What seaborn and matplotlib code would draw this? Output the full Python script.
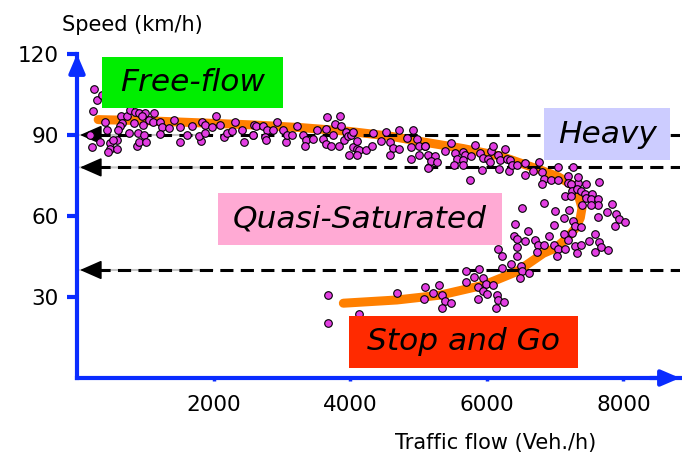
import matplotlib
matplotlib.use('Agg')
import matplotlib.pyplot as plt
from matplotlib.patches import Rectangle
import seaborn as sns

# Measured points: traffic flow (veh/h) and speed (km/h)
flow = [
    # free-flow part
    250, 240, 290, 370, 647, 730, 780, 850, 915, 1000, 1130, 950, 1050, 1110, 1220,
    655, 830, 965, 1415, 410, 632, 607, 437, 755, 900, 975, 1245, 1340, 1515, 1685,
    1835, 1880, 2030, 2100, 1980, 2320, 2590, 190, 215, 338, 485, 590, 485, 460, 590,
    880, 915, 1010, 1220, 1505, 1610, 1810, 1785, 1880, 2150, 2200, 2420, 2445, 2275,
    2570, 520,
    # middle of the upper branch
    2615, 2730, 2780, 2875, 2925, 2750, 2765, 3010, 3060, 3080, 3155, 3220, 3305, 3350,
    3340, 3450, 3515, 3595, 3645, 3645, 3660, 3720, 3745, 3780, 3855, 3830, 3865, 3915,
    3940, 3965, 4015, 4040, 4040, 4100, 4100, 4135, 3990, 4100, 4225, 4320, 4330, 4445,
    4530, 4590, 4625, 4590, 4715, 4715, 4835, 4920, 4895, 4885, 4980, 5015, 5015, 5100,
    5155, 5155, 2570,
    # heavy traffic
    5090, 5140, 5240, 5190, 5265, 5140, 5385, 5475, 5530, 5560, 5520, 5655, 5680, 5655,
    5655, 5775, 5835, 5900, 5950, 5935, 6020, 6045, 6060, 6085, 6160, 6180, 6195, 6270,
    6290, 6325, 6340, 6365, 6440, 6565, 6555, 6680, 6760, 6815, 6845, 6815, 6945, 7050,
    7050, 7185, 7270, 7190, 7335, 5750,
    # capacity zone
    7240, 7455, 7640, 7335, 7255, 7320, 7385, 7435, 7540, 7455, 7530, 7630, 7630, 7520,
    7395, 7140, 7240, 7835, 7760, 7900, 7930, 8020, 7885, 7630, 6845, 6520, 7000, 7210,
    7125, 6990, 7270, 7295, 7385, 6415, 6610, 6405, 6440, 6565, 6700, 6750, 6845, 6905,
    7125, 7255, 7190, 6990, 7050, 7140, 7295, 7385, 7500, 7590, 7650, 7680, 7775, 7580,
    6170, 6440, 6735, 7320, 6220, 6440, 6355, 7025,
    # congested branch
    4690, 5090, 5080, 5215, 5295, 5350, 5385, 5475, 5345, 5690, 5690, 5815, 5890, 5865,
    5865, 5950, 5985, 5950, 6000, 6085, 6145, 6170, 6255, 6130, 6220, 6500, 6520, 6490,
    6625, 4135, 3670, 3680,
]
speed = [
    107, 99, 103, 105, 97.2, 97.2, 99.3, 98.7, 98, 98, 98.3, 97, 95.6, 95, 95,
    94.4, 94.4, 93.8, 95.6, 95, 93.4, 91.9, 91.9, 90.9, 90.7, 90.1, 92.8, 92.5, 93.1, 93.5,
    95, 93.8, 96.9, 93.8, 93.1, 95, 93.8, 90.1, 85.6, 87.4, 87.1, 88.3, 84.9, 83.6, 84.9,
    85.8, 87.4, 87.4, 90.4, 87.4, 90.1, 87.9, 89.5, 90.7, 89.2, 90.7, 91.9, 87.4, 91.5,
    90.1, 88.2,
    93.5, 93.5, 91.7, 91.7, 95, 89.2, 88.2, 91.9, 87.4, 90.1, 90.1, 93.5, 90.1, 88.2,
    85.8, 88.5, 91.9, 88.5, 92.2, 86.8, 96.6, 86, 90.1, 94, 97.1, 86.1, 93.4, 88.2,
    91.1, 89.7, 90.1, 91.1, 85.6, 87.6, 84.8, 84.6, 82.7, 82.7, 84.6, 86.1, 90.7, 87.8,
    91.1, 87.3, 85.1, 82.7, 91.7, 84.8, 88.9, 91.9, 85.4, 81.1, 88.5, 86.1, 82.7, 85.8,
    82.4, 78.1, 89.9,
    86, 82.7, 82.4, 80.2, 80, 77.6, 84, 87, 83.3, 81.2, 79, 83.7, 82.7, 80.9,
    79, 82.1, 86.4, 83.3, 81.5, 77.2, 81.2, 79.9, 84.2, 86, 82.7, 77.5, 80.9, 84.8,
    81.1, 76.6, 80.9, 79, 79, 79.6, 75.1, 76.6, 79.9, 76.2, 73.8, 71.7, 73.5, 73.5,
    78.1, 75, 78.1, 72.3, 72.3, 73.2,
    71.8, 71.9, 72.5, 74.4, 69.2, 69.9, 69.2, 68, 68, 66.5, 66.2, 66.2, 64.1, 64.1,
    64.1, 67.4, 67.4, 64.3, 61.5, 60.9, 58.8, 57.9, 56.4, 59.7, 65, 63.1, 61.7, 62.1,
    59.1, 56.7, 58.2, 56.3, 55.8, 57.2, 54.4, 52.6, 51.4, 50.8, 51, 49.3, 49.3, 52.6,
    53.2, 53.6, 51, 49.3, 47.8, 47.8, 49, 49.3, 50.8, 53.5, 50.3, 48.4, 47.4, 46.6,
    47.8, 48.6, 46.6, 46.3, 45.1, 45.3, 42.2, 45.3,
    31.3, 33.6, 29.4, 31.5, 34.3, 30.6, 28.7, 27.9, 26.1, 39.8, 35.7, 37.3, 40.4, 33.6,
    29.4, 36.9, 35, 32.4, 31.2, 34.3, 30.8, 28.8, 28.2, 26.1, 40.7, 41.6, 39.5, 37.1,
    38.9, 23.6, 30.6, 20.2,
]

# Fitted speed-flow curve
curve_flow = [310, 1000, 2000, 2600, 3300, 4000, 4600, 5100, 5650, 6200, 6790, 7050,
              7250, 7340, 7395, 7370, 7300, 7180, 7005, 6830, 6440, 5955, 5320, 4685, 3900]
curve_speed = [95.7, 95.3, 94.3, 93.7, 92.7, 91.3, 89.5, 87.3, 85, 82.2, 77, 74.5,
               71.5, 67.8, 63, 59.3, 55.5, 51.9, 48.1, 46.2, 39.4, 34.4, 30.7, 28.9, 27.7]

# Regime boundaries (km/h)
boundary_speeds = [90, 78, 40]

x_ticks = [2000, 4000, 6000, 8000]
y_ticks = [30, 60, 90, 120]

regime_names = ['Free-flow', 'Heavy', 'Quasi-Saturated', 'Stop and Go']
regime_colors = ['#00ee00', '#ccccff', '#ffaad4', '#ff2a00']
# label boxes (x0, x1, y0, y1) in data units
regime_boxes = [(366, 3018, 100.0, 118.9),
                (6842, 8689, 80.7, 100.0),
                (2066, 6227, 49.3, 68.5),
                (3985, 7341, 3.7, 23.0)]

BLUE = '#0a2cff'

sns.set_theme(style='white')
plt.rcParams['font.family'] = ['DejaVu Sans']
plt.rcParams['text.color'] = 'black'

fig = plt.figure(figsize=(6.82, 4.58), dpi=100)
ax = fig.add_axes([77 / 682, 80 / 458, 603 / 682, 324 / 458])

# orange fitted curve
sns.lineplot(x=curve_flow, y=curve_speed, sort=False, estimator=None, color='#ff8000',
             linewidth=6.5, solid_capstyle='round', solid_joinstyle='round', zorder=2, ax=ax)

# dashed regime boundaries with arrows back to the speed axis
for lvl in boundary_speeds:
    ax.axhline(lvl, xmin=0.033, xmax=1.0, color='black', lw=2.2,
               linestyle=(0, (4.3, 2.4)), zorder=3)
    ax.annotate('', xy=(0.005, lvl), xytext=(0.225, lvl),
                xycoords=('axes fraction', 'data'), textcoords=('axes fraction', 'data'),
                arrowprops=dict(arrowstyle='-', color='#c4c4c4', lw=1.5,
                                shrinkA=0, shrinkB=0), zorder=2.5)
    ax.annotate('', xy=(0.005, lvl), xytext=(0.045, lvl),
                xycoords=('axes fraction', 'data'), textcoords=('axes fraction', 'data'),
                arrowprops=dict(arrowstyle='-|>,head_length=0.75,head_width=0.33',
                                color='black', lw=1.2, mutation_scale=18,
                                shrinkA=0, shrinkB=0), zorder=3)

# measured points
sns.scatterplot(x=flow, y=speed, s=30, color='#e23ee2', edgecolor='black',
                linewidth=0.8, zorder=4, ax=ax)

# regime labels
for name, col, (x0, x1, y0, y1) in zip(regime_names, regime_colors, regime_boxes):
    ax.add_patch(Rectangle((x0, y0), x1 - x0, y1 - y0, facecolor=col,
                           edgecolor='none', zorder=5, clip_on=False))
    ax.text((x0 + x1) / 2, (y0 + y1) / 2, name, ha='center', va='center',
            fontsize=22.5, style='italic', color='black', zorder=6)

ax.set_xlim(0, 8830)
ax.set_ylim(0, 120)
ax.set_xticks(x_ticks)
ax.set_yticks(y_ticks)
ax.set_xticklabels([str(v) for v in x_ticks])
ax.set_yticklabels([str(v) for v in y_ticks])

for side in ['top', 'right']:
    ax.spines[side].set_visible(False)
for side in ['left', 'bottom']:
    ax.spines[side].set_color(BLUE)
    ax.spines[side].set_linewidth(3)

ax.tick_params(axis='y', direction='out', length=7, width=3, color=BLUE,
               labelcolor='black', labelsize=15.5, pad=6, left=True)
ax.tick_params(axis='x', direction='out', length=2.5, width=2.5, color=BLUE,
               labelcolor='black', labelsize=15.5, pad=10, bottom=True)

# axis arrows
ax.annotate('', xy=(0, 1.0), xytext=(0, 0.93), xycoords='axes fraction',
            arrowprops=dict(arrowstyle='-|>,head_length=0.7,head_width=0.3',
                            color=BLUE, lw=3, mutation_scale=16, shrinkA=0, shrinkB=0))
ax.annotate('', xy=(1.0, 0), xytext=(0.95, 0), xycoords='axes fraction',
            arrowprops=dict(arrowstyle='-|>,head_length=0.7,head_width=0.3',
                            color=BLUE, lw=3, mutation_scale=16, shrinkA=0, shrinkB=0))

fig.text(62 / 682, 1 - 25 / 458, 'Speed (km/h)', ha='left', va='center', fontsize=15,
         color='black')
fig.text(496 / 682, 1 - 443 / 458, 'Traffic flow (Veh./h)', ha='center', va='center',
         fontsize=15, color='black')

fig.savefig('out.png', dpi=100)
